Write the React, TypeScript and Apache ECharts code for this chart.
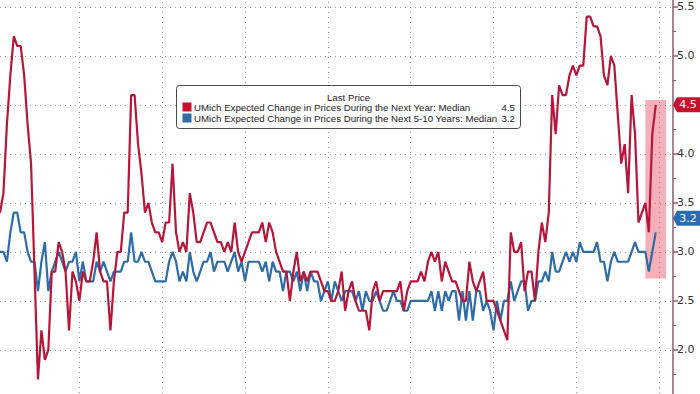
import React, { useEffect, useRef } from "react";
import * as echarts from "echarts";

// Monthly categories, Jan 2008 .. Apr 2024 (axis runs a few months past the last print)
const firstYear = 2008;
const categoryCount = 196;
const months: string[] = [];
for (let i = 0; i < categoryCount; i++) {
  const y = firstYear + Math.floor(i / 12);
  const m = (i % 12) + 1;
  months.push(`${y}-${m < 10 ? "0" + m : m}`);
}

const seriesNames = [
  "UMich Expected Change in Prices During the Next Year: Median",
  "UMich Expected Change in Prices During the Next 5-10 Years: Median",
];
const headerText = "Last Price";

// Next-year expected inflation (median), Jan 2008 .. Nov 2023
const nextYear = [
  3.4, 3.6, 4.3, 4.8, 5.2, 5.1, 5.1, 4.8, 4.3, 3.9, 2.8, 1.7,
  2.2, 1.9, 2.0, 2.8, 2.8, 3.1, 3.0, 2.8, 2.2, 2.8, 2.7, 2.5,
  2.8, 2.7, 2.7, 2.9, 3.2, 2.8, 2.7, 2.7, 2.2, 2.7, 3.0, 3.0,
  3.4, 3.4, 4.6, 4.6, 4.1, 3.8, 3.4, 3.5, 3.3, 3.2, 3.2, 3.1,
  3.3, 3.3, 3.9, 3.2, 3.0, 3.1, 3.0, 3.6, 3.4, 3.1, 3.1, 3.2,
  3.3, 3.3, 3.2, 3.1, 3.1, 3.0, 3.1, 3.0, 3.3, 3.0, 2.9, 3.0,
  3.1, 3.2, 3.2, 3.2, 3.3, 3.1, 3.3, 3.2, 3.0, 2.9, 2.8, 2.8,
  2.5, 2.8, 3.0, 2.7, 2.8, 2.7, 2.8, 2.8, 2.8, 2.7, 2.6, 2.6,
  2.5, 2.5, 2.6, 2.8, 2.4, 2.6, 2.7, 2.5, 2.4, 2.4, 2.4, 2.2,
  2.6, 2.7, 2.5, 2.6, 2.6, 2.6, 2.6, 2.6, 2.7, 2.4, 2.6, 2.7,
  2.7, 2.7, 2.8, 2.7, 2.9, 3.0, 2.9, 3.0, 2.7, 2.9, 2.8, 2.7,
  2.7, 2.6, 2.5, 2.5, 2.9, 2.7, 2.6, 2.7, 2.8, 2.5, 2.5, 2.5,
  2.4, 2.3, 2.2, 2.1, 3.2, 3.0, 3.0, 3.1, 2.6, 2.8, 2.8, 2.5,
  3.0, 3.3, 3.1, 3.4, 4.6, 4.2, 4.7, 4.6, 4.6, 4.8, 4.9, 4.8,
  4.9, 4.9, 5.4, 5.4, 5.3, 5.3, 5.2, 4.8, 4.7, 5.0, 4.9, 4.4,
  3.9, 4.1, 3.6, 4.6, 4.2, 3.3, 3.4, 3.5, 3.2, 4.2, 4.5,
];

// 5-10 year expected inflation (median), Jan 2008 .. Nov 2023
const fiveTenYear = [
  3.0, 3.0, 2.9, 3.2, 3.4, 3.4, 3.2, 3.2, 3.0, 2.9, 2.9, 2.6,
  2.9, 3.1, 2.6, 2.8, 2.9, 3.0, 2.9, 2.8, 2.9, 2.9, 3.0, 2.7,
  2.9, 2.7, 2.7, 2.7, 2.9, 2.8, 2.9, 2.8, 2.7, 2.8, 2.8, 2.8,
  2.9, 2.9, 3.2, 2.9, 2.9, 3.0, 2.9, 2.9, 2.8, 2.7, 2.7, 2.7,
  2.7, 2.9, 3.0, 2.9, 2.7, 2.8, 2.7, 3.0, 2.8, 2.7, 2.8, 2.9,
  2.9, 3.0, 2.8, 2.9, 2.9, 2.9, 2.8, 2.9, 3.0, 2.8, 2.9, 2.7,
  2.9, 2.9, 2.9, 2.9, 2.8, 2.9, 2.7, 2.9, 2.8, 2.8, 2.6, 2.8,
  2.8, 2.7, 2.8, 2.6, 2.8, 2.6, 2.8, 2.7, 2.7, 2.5, 2.6, 2.7,
  2.5, 2.7, 2.6, 2.5, 2.6, 2.6, 2.6, 2.5, 2.6, 2.4, 2.6, 2.5,
  2.5, 2.6, 2.5, 2.4, 2.4, 2.5, 2.6, 2.5, 2.5, 2.4, 2.4, 2.5,
  2.5, 2.5, 2.5, 2.5, 2.5, 2.6, 2.4, 2.6, 2.4, 2.6, 2.5, 2.6,
  2.6, 2.3, 2.6, 2.3, 2.6, 2.3, 2.6, 2.6, 2.4, 2.5, 2.4, 2.2,
  2.5, 2.3, 2.5, 2.5, 2.7, 2.5, 2.6, 2.7, 2.7, 2.4, 2.5, 2.5,
  2.7, 2.7, 2.8, 2.7, 3.0, 2.8, 2.8, 2.9, 3.0, 2.9, 3.0, 2.9,
  3.1, 3.0, 3.0, 3.0, 3.0, 3.1, 2.9, 2.9, 2.7, 2.9, 3.0, 2.9,
  2.9, 2.9, 2.9, 3.0, 3.1, 3.0, 3.0, 3.0, 2.8, 3.0, 3.2,
];

// Highlighted window (x from / to, y top / bottom)
const highlightFrom = "2023-08";
const highlightTo = "2024-02";
const highlightTop = 4.55;
const highlightBottom = 2.73;

const RED = "#b5173b";
const BLUE = "#2f6ca6";
const RED_TAG = "#c8102e";
const BLUE_TAG = "#2a6cb3";
const AXIS = "#8a5d6c";
const FONT = '"DejaVu Sans", sans-serif';
const LEGEND_FONT = '"Liberation Sans", Arial, sans-serif';

export default function App() {
  const ref = useRef<HTMLDivElement>(null);

  useEffect(() => {
    if (!ref.current) return;
    const chart = echarts.init(ref.current, undefined, { renderer: "svg" });
    const lastRed = nextYear[nextYear.length - 1];
    const lastBlue = fiveTenYear[fiveTenYear.length - 1];
    const axisEnd = months[months.length - 1];

    const tag = (color: string, offsetY: number, value: number) => ({
      symbol: "path://M0,7.5L4,0L30,0L30,15L4,15Z",
      symbolSize: [30, 15],
      symbolKeepAspect: false,
      symbolOffset: [15, offsetY],
      itemStyle: { color },
      label: {
        show: true,
        position: "inside",
        color: "#fff",
        fontSize: 11,
        fontFamily: FONT,
        offset: [0, 0],
        formatter: () => value.toFixed(1),
      },
      data: [{ coord: [axisEnd, value], value }],
    });

    const legendX = 176.5;
    const legendY = 85.5;
    const legendW = 344;
    const legendH = 43;
    const row1 = 107;
    const row2 = 118;

    const legendText = (x: number, y: number, text: string, align: string) => ({
      type: "text",
      z: 101,
      x,
      y,
      style: {
        text,
        fill: "#222",
        fontSize: 9.7,
        fontFamily: LEGEND_FONT,
        align,
        verticalAlign: "middle",
      },
    });

    const option: any = {
      animation: false,
      backgroundColor: "#ffffff",
      grid: {
        left: 0,
        right: 27,
        top: -3,
        bottom: -5,
        containLabel: false,
        outerBoundsMode: "none",
      },
      xAxis: {
        type: "category",
        data: months,
        boundaryGap: false,
        axisLine: { show: false },
        axisTick: { show: false },
        axisLabel: { show: false },
        splitLine: {
          show: true,
          interval: (idx: number) => idx % 24 === 23,
          lineStyle: { color: "#999999", type: [1, 4], width: 1 },
        },
      },
      yAxis: {
        type: "value",
        position: "right",
        min: 1.5,
        max: 5.6,
        interval: 0.5,
        axisLine: { show: true, lineStyle: { color: AXIS, width: 1.5 } },
        axisTick: {
          show: true,
          inside: false,
          length: 5,
          lineStyle: { color: AXIS, width: 1.5 },
        },
        minorTick: {
          show: true,
          splitNumber: 2,
          length: 3,
          lineStyle: { color: AXIS, width: 1 },
        },
        minorSplitLine: { show: false },
        axisLabel: {
          show: true,
          margin: 4,
          color: "#333",
          fontSize: 11,
          fontFamily: FONT,
          // labels on the half-units; the one hidden under the last-price tag is skipped
          formatter: (v: number) =>
            Math.abs(v * 2 - Math.round(v * 2)) < 1e-6 &&
            v >= 2 &&
            Math.abs(v - lastRed) > 0.1
              ? v.toFixed(1)
              : "",
        },
        splitLine: {
          show: true,
          lineStyle: { color: "#999999", type: [1, 4], width: 1 },
        },
      },
      series: [
        {
          name: seriesNames[1],
          type: "line",
          data: fiveTenYear,
          z: 2,
          clip: false,
          symbol: "none",
          lineStyle: { color: BLUE, width: 2.2 },
          markPoint: tag(BLUE_TAG, -14, lastBlue),
        },
        {
          name: "highlight",
          type: "line",
          data: [],
          z: 3,
          clip: false,
          symbol: "none",
          markArea: {
            silent: true,
            itemStyle: { color: "rgba(232, 88, 100, 0.47)" },
            data: [
              [
                { coord: [highlightFrom, highlightTop] },
                { coord: [highlightTo, highlightBottom] },
              ],
            ],
          },
        },
        {
          name: seriesNames[0],
          type: "line",
          data: nextYear,
          z: 4,
          clip: false,
          symbol: "none",
          lineStyle: { color: RED, width: 2.2 },
          markPoint: tag(RED_TAG, 0, lastRed),
        },
      ],
      graphic: [
        {
          type: "rect",
          z: 100,
          shape: { x: legendX, y: legendY, width: legendW, height: legendH, r: 3 },
          style: { fill: "#ffffff", stroke: "#4a4a4a", lineWidth: 1 },
        },
        legendText(legendX + legendW / 2, 97, headerText, "center"),
        {
          type: "rect",
          z: 101,
          shape: { x: 182.5, y: row1 - 4.5, width: 9, height: 9 },
          style: { fill: RED_TAG },
        },
        {
          type: "rect",
          z: 101,
          shape: { x: 182.5, y: row2 - 4.5, width: 9, height: 9 },
          style: { fill: BLUE },
        },
        legendText(194, row1, seriesNames[0], "left"),
        legendText(194, row2, seriesNames[1], "left"),
        legendText(515, row1, lastRed.toFixed(1), "right"),
        legendText(515, row2, lastBlue.toFixed(1), "right"),
      ],
    };

    chart.setOption(option);
    return () => chart.dispose();
  }, []);

  return (
    <div
      ref={ref}
      style={{
        position: "absolute",
        left: 0,
        top: 0,
        width: 700,
        height: 394,
        background: "#ffffff",
      }}
    />
  );
}
